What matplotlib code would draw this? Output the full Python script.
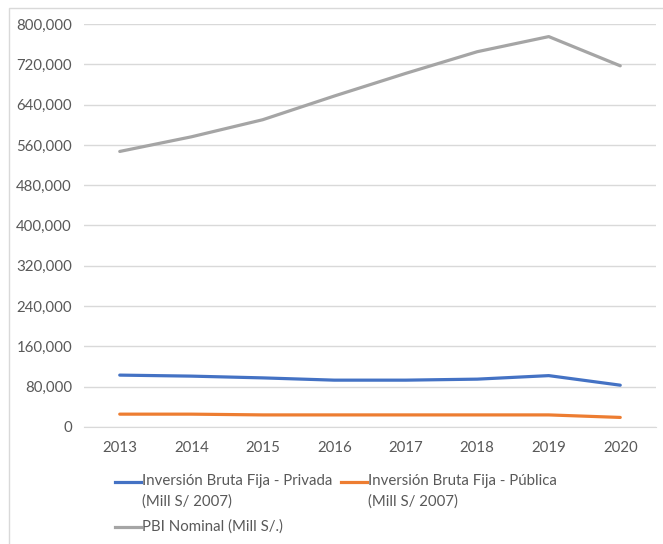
import matplotlib.pyplot as plt
from matplotlib.lines import Line2D
from matplotlib.patches import Rectangle
from matplotlib.ticker import FuncFormatter, MultipleLocator

W, H = 663, 544

years = ["2013", "2014", "2015", "2016", "2017", "2018", "2019", "2020"]
privada = [103000, 101000, 97500, 93000, 93000, 95000, 102000, 83000]
publica = [25500, 25500, 24000, 24000, 24000, 24000, 24000, 19000]
pbi = [547000, 576000, 610000, 657000, 702000, 745000, 775000, 717000]

labels = [
    "Inversión Bruta Fija - Privada\n(Mill S/ 2007)",
    "Inversión Bruta Fija - Pública\n(Mill S/ 2007)",
    "PBI Nominal (Mill S/.)",
]
colors = ["#4472C4", "#ED7D31", "#A5A5A5"]

plt.rcParams["font.family"] = ["Lato", "DejaVu Sans"]
TXT = "#595959"
GRID = "#D9D9D9"
FS = 10.8


def fx(px):
    return px / W


def fy(py):
    return 1 - py / H


fig = plt.figure(figsize=(W / 100, H / 100), dpi=100)
ax = fig.add_axes([fx(84), fy(427), fx(656) - fx(84), fy(24) - fy(427)])

x = range(len(years))
for serie, c in zip([privada, publica, pbi], colors):
    ax.plot(x, serie, color=c, lw=2.3, solid_capstyle="round")

ax.set_xlim(-0.5, len(years) - 0.5)
ax.set_ylim(0, 800000)
ax.yaxis.set_major_locator(MultipleLocator(80000))
ax.yaxis.set_major_formatter(FuncFormatter(lambda v, p: f"{int(v):,}"))
ax.set_xticks(list(x))
ax.set_xticklabels(years)
ax.grid(axis="y", color=GRID, lw=1)
ax.set_axisbelow(True)
for s in ["top", "right", "left"]:
    ax.spines[s].set_visible(False)
ax.spines["bottom"].set_color(GRID)
ax.tick_params(axis="both", length=0, colors=TXT, labelsize=FS)
ax.tick_params(axis="y", pad=8.6)
ax.tick_params(axis="x", pad=10)

# borde del gráfico
fig.add_artist(Rectangle((fx(9), fy(560)), fx(700), fy(8) - fy(560),
                         transform=fig.transFigure, fill=False, ec=GRID, lw=1))

# leyenda manual al estilo Excel
pos = [(115, 482), (341, 482), (115, 527)]
for (px, py), lab, c in zip(pos, labels, colors):
    fig.add_artist(Line2D([fx(px), fx(px + 26)], [fy(py), fy(py)],
                          transform=fig.transFigure, color=c, lw=2.3))
    fig.text(fx(px + 27), fy(py - 8), lab, ha="left", va="top",
             color=TXT, fontsize=FS, linespacing=1.6)

fig.savefig("out.png", dpi=100)
